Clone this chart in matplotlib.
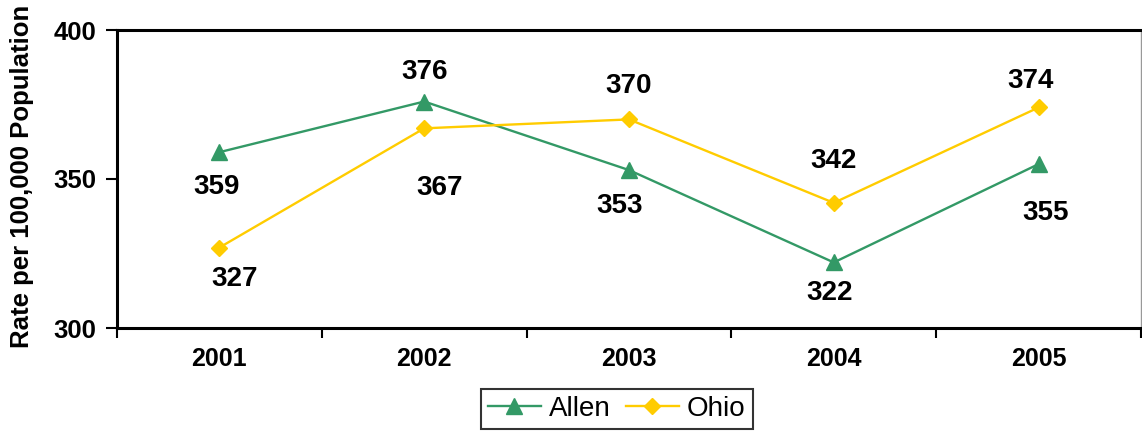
import matplotlib
matplotlib.use('Agg')
import matplotlib.pyplot as plt
from matplotlib.ticker import FixedLocator, NullFormatter

plt.rcParams['font.family'] = ['Liberation Sans', 'DejaVu Sans']

years = ['2001', '2002', '2003', '2004', '2005']
allen = [359, 376, 353, 322, 355]
ohio = [327, 367, 370, 342, 374]

# label offsets in points (dx, dy) relative to each marker
allen_off = [(-2, -25), (0, 21), (-7, -26), (-3, -22), (5, -35)]
ohio_off = [(11, -23), (11, -43), (0, 24), (0, 30), (-6, 19)]

GREEN = '#339966'
YELLOW = '#FFCC00'

fig = plt.figure(figsize=(11.42, 4.34), dpi=100)
ax = fig.add_axes([117 / 1142, 1 - 328 / 434, 1024 / 1142, 298 / 434])

x = list(range(len(years)))
ax.plot(x, allen, color=GREEN, lw=1.7, marker='^', ms=12, label='Allen')
ax.plot(x, ohio, color=YELLOW, lw=1.7, marker='D', ms=8.5, label='Ohio')

for xi, v, off in zip(x, allen, allen_off):
    ax.annotate(str(v), (xi, v), xytext=off, textcoords='offset points',
                ha='center', va='center', fontsize=20, fontweight='bold')
for xi, v, off in zip(x, ohio, ohio_off):
    ax.annotate(str(v), (xi, v), xytext=off, textcoords='offset points',
                ha='center', va='center', fontsize=20, fontweight='bold')

ax.set_xlim(-0.5, 4.5)
ax.set_ylim(300, 400)
ax.set_yticks([300, 350, 400])
ax.tick_params(axis='y', labelsize=18.5, width=1.5, length=8, direction='out', pad=7)
for t in ax.get_yticklabels():
    t.set_fontweight('bold')

ax.set_xticks(x)
ax.set_xticklabels(years, fontsize=18, fontweight='bold')
ax.tick_params(axis='x', length=0, pad=14)
ax.xaxis.set_minor_locator(FixedLocator([i - 0.5 for i in range(6)]))
ax.xaxis.set_minor_formatter(NullFormatter())
ax.tick_params(axis='x', which='minor', length=7, width=1.5, direction='out')

for s in ['left', 'bottom', 'top']:
    ax.spines[s].set_linewidth(2.2)
    ax.spines[s].set_color('black')
ax.spines['right'].set_linewidth(1.0)
ax.spines['right'].set_color('#999999')

fig.text(0.019, 0.594, 'Rate per 100,000 Population', rotation=90,
         ha='center', va='center', fontsize=18.5, fontweight='bold')

leg = fig.legend(loc='center', bbox_to_anchor=(0.540, 0.058), ncol=2,
                 fontsize=20, frameon=True, fancybox=False, handlelength=1.9,
                 columnspacing=0.55, handletextpad=0.3, borderpad=0.25,
                 borderaxespad=0)
leg.get_frame().set_edgecolor('black')
leg.get_frame().set_linewidth(1.5)

fig.savefig('out.png', dpi=100, facecolor='white')
